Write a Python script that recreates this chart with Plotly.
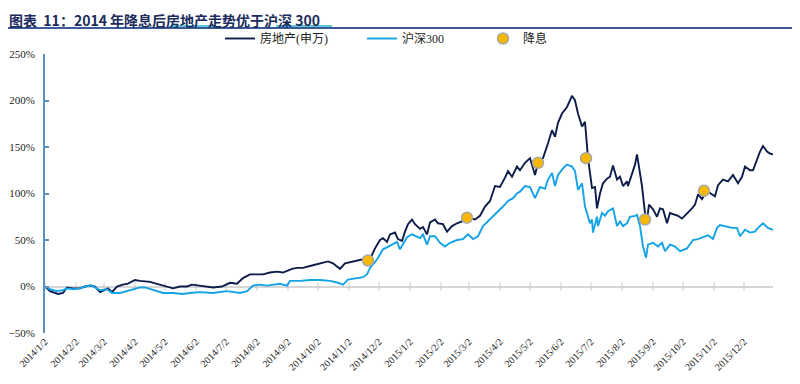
import plotly.graph_objects as go

# ---------------- data ----------------
re_dates = [
    "2014-01-02", "2014-01-07", "2014-01-15", "2014-01-20", "2014-01-24", "2014-01-30",
    "2014-02-06", "2014-02-11", "2014-02-16", "2014-02-21", "2014-02-26", "2014-03-03",
    "2014-03-06", "2014-03-10", "2014-03-15", "2014-03-21", "2014-03-26", "2014-04-02",
    "2014-04-07", "2014-04-17", "2014-04-27", "2014-05-04", "2014-05-10", "2014-05-17",
    "2014-05-24", "2014-05-29", "2014-06-06", "2014-06-19", "2014-06-28", "2014-07-06",
    "2014-07-13", "2014-07-19", "2014-07-26", "2014-08-02", "2014-08-08", "2014-08-15",
    "2014-08-22", "2014-08-28", "2014-09-06", "2014-09-11", "2014-09-17", "2014-09-24",
    "2014-10-01", "2014-10-07", "2014-10-12", "2014-10-17", "2014-10-21", "2014-10-24",
    "2014-10-29", "2014-11-06", "2014-11-15", "2014-11-20", "2014-11-25", "2014-11-28",
    "2014-12-03", "2014-12-06", "2014-12-10", "2014-12-13", "2014-12-18", "2014-12-21",
    "2014-12-25", "2014-12-28", "2014-12-31", "2015-01-04", "2015-01-07", "2015-01-12",
    "2015-01-15", "2015-01-19", "2015-01-22", "2015-01-27", "2015-01-30", "2015-02-04",
    "2015-02-08", "2015-02-13", "2015-02-18", "2015-02-23", "2015-03-01", "2015-03-08",
    "2015-03-13", "2015-03-18", "2015-03-23", "2015-03-28", "2015-04-02", "2015-04-07",
    "2015-04-10", "2015-04-14", "2015-04-19", "2015-04-22", "2015-04-27", "2015-05-02",
    "2015-05-07", "2015-05-10", "2015-05-15", "2015-05-20", "2015-05-24", "2015-05-27",
    "2015-05-30", "2015-06-03", "2015-06-08", "2015-06-13", "2015-06-16", "2015-06-19",
    "2015-06-23", "2015-06-26", "2015-06-28", "2015-06-29", "2015-07-03", "2015-07-06",
    "2015-07-08", "2015-07-11", "2015-07-14", "2015-07-18", "2015-07-21", "2015-07-24",
    "2015-07-28", "2015-07-31", "2015-08-03", "2015-08-07", "2015-08-08", "2015-08-12",
    "2015-08-15", "2015-08-17", "2015-08-19", "2015-08-22", "2015-08-25", "2015-08-27",
    "2015-08-29", "2015-09-02", "2015-09-06", "2015-09-09", "2015-09-12", "2015-09-16",
    "2015-09-19", "2015-09-22", "2015-09-27", "2015-10-01", "2015-10-06", "2015-10-11",
    "2015-10-14", "2015-10-17", "2015-10-21", "2015-10-26", "2015-10-31", "2015-11-03",
    "2015-11-06", "2015-11-11", "2015-11-16", "2015-11-21", "2015-11-26", "2015-11-30",
    "2015-12-03", "2015-12-08", "2015-12-11", "2015-12-15", "2015-12-18", "2015-12-21",
    "2015-12-25", "2015-12-28", "2015-12-31",
]
re_values = [
    0, -5, -8, -7, -1, -2,
    -2, 0, 1, 0, -6, -4,
    -2, -6, 0, 2, 3, 7,
    6, 5, 2, 0, -2, 0,
    0, 2, 1, -1, 0, 4,
    3, 9, 13, 13, 13, 15,
    16, 15, 19, 20, 20, 22,
    24, 25, 27, 25, 22, 19,
    25, 27, 29, 28, 34, 41,
    50, 52, 48, 56, 58, 51,
    49, 59, 67, 72, 67, 62,
    64, 56, 69, 72, 68, 67,
    59, 65, 68, 70, 74, 72,
    76, 86, 92, 108, 107, 117,
    124, 118, 129, 125, 133, 138,
    120, 133, 138, 154, 168, 161,
    176, 186, 193, 205, 200, 186,
    172, 177, 150, 138, 106, 107,
    84, 100, 111, 116, 118, 130,
    115, 118, 108, 113, 108, 122,
    131, 142, 127, 108, 79, 72,
    88, 83, 75, 84, 83, 68,
    79, 78, 76, 73, 78, 84,
    88, 99, 94, 103, 99, 97,
    109, 115, 113, 120, 111, 118,
    129, 125, 125, 136, 145, 151,
    145, 143, 142,
]

hs_dates = [
    "2014-01-02", "2014-01-07", "2014-01-14", "2014-01-20", "2014-01-24", "2014-01-30",
    "2014-02-06", "2014-02-11", "2014-02-18", "2014-02-21", "2014-02-26", "2014-03-05",
    "2014-03-10", "2014-03-18", "2014-03-28", "2014-04-07", "2014-04-12", "2014-04-20",
    "2014-04-30", "2014-05-10", "2014-05-20", "2014-05-27", "2014-06-06", "2014-06-19",
    "2014-07-03", "2014-07-16", "2014-07-23", "2014-07-29", "2014-08-05", "2014-08-12",
    "2014-08-18", "2014-08-25", "2014-09-01", "2014-09-04", "2014-09-14", "2014-09-24",
    "2014-10-04", "2014-10-14", "2014-10-22", "2014-10-27", "2014-11-01", "2014-11-10",
    "2014-11-16", "2014-11-20", "2014-11-23", "2014-11-30", "2014-12-06", "2014-12-10",
    "2014-12-15", "2014-12-20", "2014-12-23", "2014-12-26", "2014-12-30", "2015-01-04",
    "2015-01-09", "2015-01-12", "2015-01-15", "2015-01-19", "2015-01-22", "2015-01-27",
    "2015-02-01", "2015-02-06", "2015-02-11", "2015-02-18", "2015-02-24", "2015-03-01",
    "2015-03-06", "2015-03-11", "2015-03-16", "2015-03-23", "2015-03-30", "2015-04-05",
    "2015-04-10", "2015-04-15", "2015-04-19", "2015-04-22", "2015-04-27", "2015-05-02",
    "2015-05-07", "2015-05-12", "2015-05-17", "2015-05-20", "2015-05-24", "2015-05-27",
    "2015-05-30", "2015-06-04", "2015-06-08", "2015-06-13", "2015-06-16", "2015-06-19",
    "2015-06-23", "2015-06-26", "2015-07-01", "2015-07-03", "2015-07-04", "2015-07-08",
    "2015-07-09", "2015-07-13", "2015-07-16", "2015-07-19", "2015-07-24", "2015-07-28",
    "2015-07-31", "2015-08-03", "2015-08-07", "2015-08-10", "2015-08-15", "2015-08-17",
    "2015-08-20", "2015-08-23", "2015-08-26", "2015-08-28", "2015-09-02", "2015-09-07",
    "2015-09-11", "2015-09-14", "2015-09-19", "2015-09-24", "2015-09-29", "2015-10-06",
    "2015-10-12", "2015-10-17", "2015-10-22", "2015-10-27", "2015-11-01", "2015-11-05",
    "2015-11-08", "2015-11-13", "2015-11-20", "2015-11-25", "2015-11-28", "2015-12-03",
    "2015-12-08", "2015-12-13", "2015-12-16", "2015-12-21", "2015-12-26", "2015-12-31",
]
hs_values = [
    0, -3, -5, -4, -2, -3,
    -2, 0, 1, -1, -4, -3,
    -7, -7, -4, -1, -1, -4,
    -7, -7, -8, -7, -6, -7,
    -5, -7, -5, 1, 2, 1,
    2, 3, 1, 6, 6, 7,
    7, 6, 4, 2, 7.5, 9,
    10, 13, 20, 29, 40, 42,
    45, 48, 40, 45, 53, 56,
    54, 52, 56, 45, 54, 54,
    47, 43, 47, 50, 51, 56,
    51, 54, 65, 72, 79, 86,
    92, 95, 100, 102, 108, 107,
    95, 107, 105, 115, 122, 108,
    120, 127, 131, 129, 124, 104,
    111, 86, 68, 72, 58, 75,
    65, 79, 76, 81, 84, 65,
    70, 65, 68, 75, 76, 77,
    65, 43, 31, 45, 47, 43,
    47, 38, 45, 43, 38, 41,
    50, 51, 53, 55, 51, 63,
    66, 65, 63, 63, 54, 61,
    58, 59, 63, 68, 63, 61,
]

cut_dates = ["2014-11-21", "2015-02-28", "2015-05-10", "2015-06-27", "2015-08-25", "2015-10-23"]
cut_values = [28, 74, 133, 138, 72, 103]

tick_dates = [
    "2014-01-02", "2014-02-02", "2014-03-02", "2014-04-02", "2014-05-02", "2014-06-02",
    "2014-07-02", "2014-08-02", "2014-09-02", "2014-10-02", "2014-11-02", "2014-12-02",
    "2015-01-02", "2015-02-02", "2015-03-02", "2015-04-02", "2015-05-02", "2015-06-02",
    "2015-07-02", "2015-08-02", "2015-09-02", "2015-10-02", "2015-11-02", "2015-12-02",
]
tick_labels = [
    "2014/1/2", "2014/2/2", "2014/3/2", "2014/4/2", "2014/5/2", "2014/6/2",
    "2014/7/2", "2014/8/2", "2014/9/2", "2014/10/2", "2014/11/2", "2014/12/2",
    "2015/1/2", "2015/2/2", "2015/3/2", "2015/4/2", "2015/5/2", "2015/6/2",
    "2015/7/2", "2015/8/2", "2015/9/2", "2015/10/2", "2015/11/2", "2015/12/2",
]

title_text = "<b>图表  11：2014 年降息后房地产走势优于沪深 300</b>"

# ---------------- figure ----------------
# The page body adds an 8px margin, so figure pixel = page pixel - 8.
DARK = "#0c1d4a"
LIGHT = "#13a3e6"
SERIF = "Liberation Serif, Times New Roman, Noto Sans CJK SC, serif"
W, H = 800, 384
ML, MR, MB = 37, 35, 59
PLOT_TOP = 46                      # figure row of the 250% line
PW = W - ML - MR
PAPER_H = H - MB                   # margin top is 0, paper spans 0..H-MB
DOMAIN_TOP = 1 - PLOT_TOP / PAPER_H


def py(ypx):
    """figure pixel row -> paper fraction."""
    return 1 - ypx / PAPER_H


def px(xpx):
    """figure pixel column -> paper fraction."""
    return (xpx - ML) / PW


fig = go.Figure()

# small tick marks along the zero axis line
fig.add_trace(go.Scatter(
    x=tick_dates, y=[0] * len(tick_dates), mode="markers",
    marker=dict(symbol="line-ns", size=6, line=dict(color="#c8c8c8", width=1)),
    showlegend=False, hoverinfo="skip",
))

fig.add_trace(go.Scatter(
    x=re_dates, y=re_values, mode="lines", name="房地产(申万)", legend="legend",
    line=dict(color=DARK, width=1.9),
))
fig.add_trace(go.Scatter(
    x=hs_dates, y=hs_values, mode="lines", name="沪深300", legend="legend2",
    line=dict(color=LIGHT, width=1.9),
))
fig.add_trace(go.Scatter(
    x=cut_dates, y=cut_values, mode="markers", name="降息", legend="legend3",
    marker=dict(color="#f6b800", size=11, line=dict(color="#a8a8a8", width=1.5)),
))


def leg(xpx):
    return dict(
        orientation="h", xref="paper", yref="paper",
        x=px(xpx), xanchor="left", y=py(16), yanchor="top",
        font=dict(family=SERIF, size=12, color="#222222"),
        bgcolor="rgba(0,0,0,0)",
    )


fig.update_layout(
    width=W, height=H,
    margin=dict(l=ML, r=MR, t=0, b=MB, autoexpand=False),
    paper_bgcolor="white", plot_bgcolor="white",
    showlegend=True,
    legend=leg(212),
    legend2=leg(354),
    legend3=leg(475),
    annotations=[
        dict(text=title_text, xref="paper", yref="paper",
             x=px(0), xanchor="left", y=py(1), yanchor="top",
             showarrow=False, borderpad=0,
             font=dict(family="Noto Sans CJK SC, sans-serif", size=14, color="#1b2c5c")),
    ],
    xaxis=dict(
        type="date", automargin=False,
        range=["2014-01-02", "2015-12-31"],
        tickvals=tick_dates, ticktext=tick_labels,
        tickangle=-45, showgrid=False, showline=False, zeroline=False,
        ticks="", tickfont=dict(family=SERIF, size=10, color="#222222"),
    ),
    yaxis=dict(
        domain=[0, DOMAIN_TOP], automargin=False,
        range=[-50, 250], dtick=50, ticksuffix="%",
        showgrid=False, zeroline=True, zerolinecolor="#d6d6d6", zerolinewidth=1.5,
        showline=True, linecolor="#5b8fbd", linewidth=2,
        ticks="inside", ticklen=4, tickcolor="#5b8fbd", tickwidth=1.5,
        ticklabelstandoff=6,
        tickfont=dict(family=SERIF, size=11, color="#222222"),
    ),
    shapes=[
        # rule under the title
        dict(type="line", xref="paper", yref="paper",
             x0=px(0), x1=px(W), y0=py(20), y1=py(20),
             line=dict(color="#3a5a9a", width=2)),
        # light underlines beneath two words in the title
        dict(type="line", xref="paper", yref="paper",
             x0=px(163), x1=px(205), y0=py(18), y1=py(18),
             line=dict(color="#2bb3c8", width=1.5)),
        dict(type="line", xref="paper", yref="paper",
             x0=px(268), x1=px(324), y0=py(18), y1=py(18),
             line=dict(color="#2bb3c8", width=1.5)),
    ],
)

fig.write_html("out.html")
